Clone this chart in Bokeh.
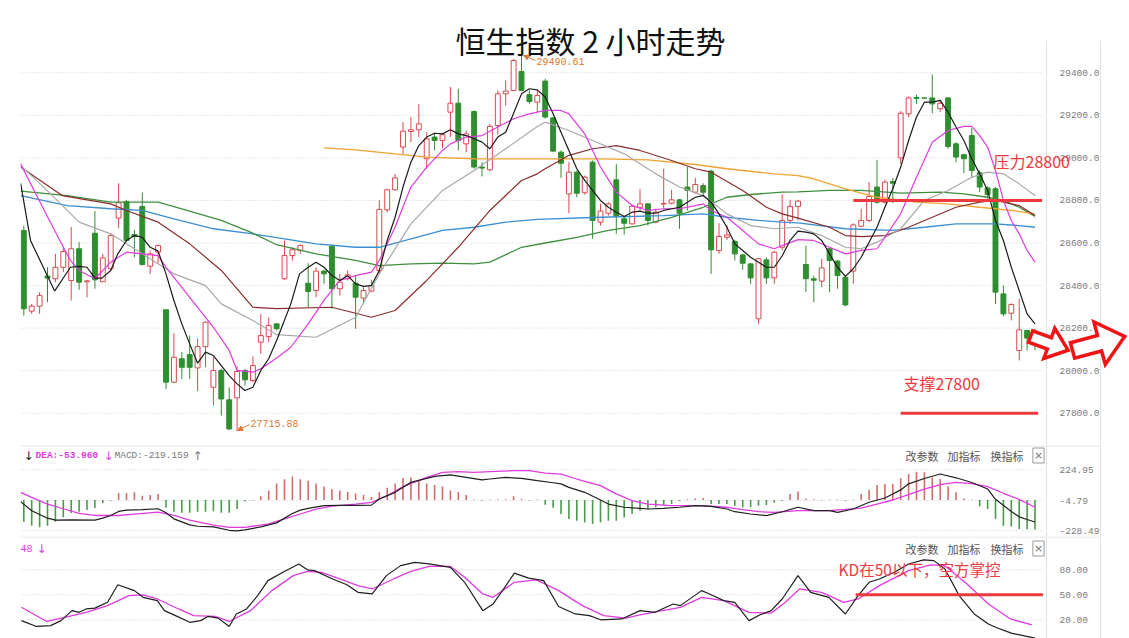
import numpy as np
from bokeh.plotting import figure
from bokeh.layouts import column
from bokeh.models import (Range1d, FixedTicker, NumeralTickFormatter, Label, LinearAxis,
                          PolyAnnotation, ColumnDataSource, Arrow, NormalHead)
from bokeh.embed import file_html
from bokeh.resources import INLINE

# ---------------- data ----------------
candle_open = [
    28659, 28280, 28303, 28445, 28432, 28486, 28424, 28573, 28418, 28646,
    28418, 28479, 28717, 28795, 28640, 28772, 28491, 28557, 28286, 27946,
    28056, 28076, 28013, 28113, 27922, 28001, 27863, 27872, 28001, 27954,
    28134, 28160, 28220, 28432, 28541, 28565, 28411, 28377, 28468, 28585,
    28385, 28432, 28411, 28341, 28374, 28471, 28756, 28850, 29051, 29124,
    29132, 28996, 29098, 29082, 29215, 29257, 29066, 29218, 28957, 28944,
    29152, 29301, 29317, 29406, 29297, 29262, 29361, 29188, 29027, 28831,
    28933, 28836, 28980, 28698, 28740, 28897, 28714, 28690, 28768, 28784,
    28698, 28783, 28787, 28803, 28863, 28839, 28870, 28938, 28565, 28627,
    28607, 28544, 28502, 28244, 28521, 28436, 28580, 28706, 28772, 28499,
    28432, 28421, 28573, 28515, 28439, 28468, 28679, 28706, 28863, 28792,
    28889, 29000, 29207, 29284, 29282, 29282, 29231, 29282, 29066, 29015,
    29105, 28930, 28859, 28855, 28361, 28270, 28095, 28189, 28186]
candle_high = [
    28682, 28314, 28369, 28486, 28549, 28580, 28675, 28604, 28427, 28750,
    28549, 28643, 28881, 28803, 28662, 28837, 28565, 28593, 28286, 28176,
    28087, 28165, 28150, 28231, 28063, 28009, 27922, 28020, 28009, 28067,
    28267, 28251, 28223, 28612, 28580, 28593, 28505, 28486, 28474, 28593,
    28455, 28471, 28447, 28392, 28427, 28800, 28855, 28925, 29168, 29192,
    29254, 29121, 29116, 29116, 29333, 29325, 29129, 29223, 28980, 29160,
    29317, 29364, 29465, 29490.61, 29317, 29317, 29372, 29192, 29035, 28980,
    28941, 28917, 28988, 28784, 28792, 28972, 28725, 28781, 28855, 28787,
    28761, 28949, 28850, 28808, 28957, 28906, 28881, 28944, 28693, 28685,
    28615, 28549, 28505, 28530, 28533, 28562, 28828, 28803, 28803, 28588,
    28447, 28526, 28577, 28521, 28447, 28693, 28761, 28886, 28991, 28897,
    28905, 29220, 29289, 29297, 29284, 29392, 29273, 29286, 29074, 29019,
    29140, 28941, 28866, 28863, 28400, 28317, 28338, 28192, 28197]
candle_low = [
    28259, 28267, 28267, 28322, 28416, 28463, 28330, 28380, 28345, 28385,
    28416, 28471, 28671, 28604, 28533, 28494, 28455, 28505, 27914, 27941,
    27961, 27961, 27904, 28016, 27836, 27789, 27722, 27715.88, 27930, 27946,
    28079, 28134, 28189, 28427, 28518, 28549, 28298, 28345, 28408, 28291,
    28353, 28424, 28197, 28314, 28369, 28455, 28745, 28847, 29019, 29074,
    29098, 28949, 29035, 29046, 29098, 29035, 29027, 28949, 28913, 28938,
    29110, 29246, 29314, 29317, 29254, 29215, 29184, 29027, 28906, 28740,
    28815, 28828, 28620, 28682, 28729, 28643, 28640, 28687, 28753, 28682,
    28693, 28761, 28781, 28667, 28753, 28831, 28823, 28455, 28549, 28615,
    28518, 28474, 28408, 28220, 28408, 28408, 28565, 28690, 28706, 28369,
    28322, 28392, 28369, 28385, 28303, 28408, 28674, 28698, 28784, 28784,
    28787, 28972, 29192, 29254, 29278, 29210, 29215, 29043, 28980, 28928,
    28906, 28839, 28808, 28314, 28255, 28236, 28048, 28095, 28095]
candle_close = [
    28291, 28303, 28353, 28435, 28486, 28560, 28573, 28416, 28422, 28427,
    28530, 28635, 28789, 28612, 28630, 28499, 28549, 28588, 27946, 28063,
    28016, 28016, 28113, 28228, 28001, 27867, 27726, 27996, 27957, 28024,
    28165, 28212, 28197, 28541, 28568, 28588, 28372, 28468, 28455, 28385,
    28416, 28450, 28345, 28377, 28400, 28758, 28850, 28906, 29126, 29132,
    29160, 29090, 29082, 29109, 29257, 29082, 29113, 28957, 28952, 29148,
    29301, 29314, 29458, 29317, 29265, 29293, 29192, 29032, 28975, 28933,
    28834, 28910, 28706, 28750, 28784, 28725, 28693, 28773, 28784, 28706,
    28745, 28786, 28803, 28740, 28847, 28875, 28839, 28568, 28631, 28638,
    28549, 28505, 28436, 28526, 28436, 28557, 28706, 28772, 28797, 28432,
    28425, 28483, 28518, 28447, 28309, 28685, 28706, 28819, 28792, 28886,
    28881, 29210, 29282, 29279, 29281, 29254, 29257, 29054, 29004, 28996,
    28941, 28863, 28828, 28369, 28267, 28311, 28192, 28153, 28173]

ma5_x = [0.6, 1.85, 4.9, 6.9, 8, 9, 10, 10.9, 12, 12.9, 14, 15, 16, 17, 18, 19, 20, 21, 22, 23,
         24, 25, 26, 27, 28, 29, 30, 31, 32, 33, 34.8, 35.9, 37, 38, 39, 40, 41, 42, 43, 44,
         45, 46, 47, 48, 49, 50, 51, 52, 53, 54, 55, 56, 57, 58, 59, 60, 61, 62, 63, 64,
         65, 66, 67, 68, 69, 70, 71, 72, 73, 74, 75, 76, 77, 78, 79, 80, 81, 82, 83, 84,
         85, 86, 87, 88, 89, 90, 91, 92, 93, 94, 95, 96, 97, 98, 99, 100, 101, 102, 103, 104,
         105, 106, 107, 108, 109, 110, 111, 112, 113, 114, 115, 116, 117, 118, 119, 120, 121, 122, 123, 124,
         125, 126, 127, 128, 129]
ma5_y = [28880, 28612, 28374, 28486, 28490, 28486, 28435, 28435, 28471, 28549, 28612, 28635, 28627, 28580, 28562, 28455, 28330, 28220, 28126, 28035,
         28087, 28071, 28024, 27977, 27938, 27907, 27922, 28001, 28056, 28142, 28314, 28455, 28486, 28510, 28486, 28447, 28424, 28447, 28408, 28396,
         28400, 28471, 28612, 28721, 28863, 28980, 29058, 29098, 29116, 29113, 29132, 29113, 29105, 29090, 29074, 29043, 29098, 29121, 29210, 29301,
         29325, 29320, 29286, 29207, 29121, 29035, 28949, 28894, 28847, 28800, 28768, 28745, 28725, 28745, 28750, 28740, 28740, 28753, 28761, 28768,
         28792, 28815, 28823, 28792, 28737, 28674, 28596, 28565, 28533, 28510, 28486, 28486, 28540, 28612, 28656, 28651, 28643, 28612, 28549, 28486,
         28443, 28479, 28533, 28604, 28674, 28768, 28855, 28957, 29082, 29192, 29262, 29262, 29270, 29215, 29145, 29082, 28996, 28925, 28847, 28706,
         28612, 28486, 28377, 28267, 28220]

ma10_x = [0.6, 2.3, 4.9, 6.9, 8, 10, 12, 14, 16, 18, 19, 21, 23, 25, 27, 28, 30, 31, 33, 34.8,
          37, 39, 41, 43, 45, 46, 48, 50, 52, 54, 55, 57, 59, 61, 63, 65, 67, 69, 70, 72,
          74, 76, 78, 80, 82, 84, 86, 87, 88, 90, 92, 94, 96, 97, 99, 101, 103, 105, 107, 109,
          110, 112, 114, 116, 118, 120, 121, 122, 123, 124, 125, 126, 127, 128, 129]
ma10_y = [28972, 28847, 28659, 28518, 28471, 28432, 28510, 28557, 28549, 28541, 28486, 28392, 28298, 28204, 28095, 28001, 27993, 28009, 28060, 28110,
          28220, 28330, 28424, 28447, 28463, 28518, 28675, 28863, 28957, 29035, 29066, 29098, 29105, 29145, 29184, 29207, 29223, 29223, 29207, 29113,
          28957, 28839, 28776, 28753, 28761, 28761, 28776, 28784, 28753, 28721, 28659, 28596, 28573, 28588, 28616, 28612, 28580, 28549, 28565, 28573,
          28627, 28737, 28909, 29074, 29129, 29148, 29148, 29105, 29051, 28941, 28800, 28706, 28643, 28565, 28510]

ma20_x = [0.6, 4.4, 8, 12, 16, 20, 24, 26, 30, 33, 38, 43, 46, 50, 54, 58, 62, 66, 67, 70,
          73, 77, 81, 84, 87, 90, 93, 96, 99, 102, 105, 107, 109, 112, 115, 118, 121, 123, 125, 127, 129]
ma20_y = [28964, 28831, 28698, 28643, 28549, 28455, 28400, 28314, 28236, 28169, 28157, 28251, 28455, 28690, 28847, 28941, 29043, 29148, 29168, 29129,
          29082, 29019, 28925, 28863, 28823, 28737, 28682, 28667, 28674, 28635, 28580, 28573, 28604, 28667, 28800, 28847, 28909, 28933, 28925, 28878, 28823]

ma30_x = [0.6, 5.85, 12, 14, 18, 22, 26, 30, 33, 40, 43, 45, 48, 52, 56, 60, 64, 66, 67, 70,
          73, 76, 79, 83, 86, 88, 92, 95, 97, 99, 103, 105, 107, 110, 113, 116, 119, 122, 124, 127, 129]
ma30_y = [28957, 28823, 28784, 28753, 28698, 28596, 28471, 28298, 28292, 28298, 28270, 28251, 28283, 28424, 28580, 28753, 28894, 28925, 28949, 29012,
          29043, 29058, 29035, 28988, 28949, 28933, 28847, 28768, 28737, 28717, 28674, 28635, 28630, 28635, 28674, 28721, 28768, 28792, 28800, 28776, 28729]

ma60_x = [0.6, 6.5, 12, 18, 21, 26, 30, 33, 38, 43, 46, 50, 54, 58, 60, 64, 67, 71, 75, 79,
          83, 87, 90, 93, 97, 99, 103, 107, 112, 117, 120, 123, 125, 127, 129]
ma60_y = [28844, 28823, 28792, 28792, 28761, 28706, 28646, 28592, 28549, 28518, 28494, 28502, 28505, 28502, 28510, 28580, 28600, 28627, 28659, 28682,
          28721, 28768, 28815, 28828, 28839, 28840, 28847, 28847, 28834, 28839, 28831, 28815, 28800, 28768, 28725]

ma120_x = [0.6, 6.5, 12, 16, 20, 25, 30, 33, 38, 43, 46, 50, 54, 58, 62, 66, 74, 82, 87, 90,
           94, 97, 99, 105, 111, 115, 119, 124, 127, 129]
ma120_y = [28823, 28776, 28761, 28753, 28714, 28667, 28643, 28625, 28596, 28580, 28580, 28620, 28659, 28674, 28698, 28711, 28721, 28729, 28737, 28721,
           28706, 28698, 28695, 28667, 28659, 28674, 28690, 28690, 28682, 28674]

ma250_x = [39, 43, 48, 52, 58, 66, 74, 80, 86, 90, 96, 99, 101, 105, 109, 114, 118, 122, 126, 129]
ma250_y = [29047, 29038, 29019, 29004, 28996, 28995, 28995, 28991, 28969, 28949, 28925, 28917, 28902, 28855, 28815, 28792, 28784, 28768, 28753, 28737]

macd_hist = [
    -161, -191, -203, -191, -161, -129, -97, -87, -74, -59,
    -22, -6, 52, 52, 57, 32, 37, 45, -57, -88,
    -94, -94, -88, -88, -84, -94, -94, -67, -10, -4,
    27, 70, 122, 154, 175, 154, 143, 122, 101, 80,
    70, 59, 48, 38, 23, 59, 91, 122, 164, 168,
    143, 122, 111, 101, 70, 59, 38, 4, -4, 3,
    3, 6, 27, 8, -4, 3, -36, -57, -104, -141,
    -154, -166, -178, -166, -154, -154, -129, -104, -79, -67,
    -54, -37, -30, -8, 5, 12, 15, -30, -30, -30,
    -42, -54, -54, -42, -37, -20, -8, 45, 64, 10,
    5, -3, 3, 3, -5, 3, 45, 77, 111, 119,
    119, 161, 193, 210, 206, 168, 156, 102, 57, 12,
    3, -47, -67, -140, -192, -197, -215, -218, -219.159]

dif_x = [0.6, 2, 4, 5, 7, 10, 11, 12, 13, 14, 16, 18, 19, 20, 22, 23, 25, 27, 28, 29,
         31, 33, 35, 36, 37, 39, 41, 43, 45, 46, 48, 50, 52, 53, 55, 57, 59, 60, 62, 64,
         66, 68, 69, 70, 72, 74, 75, 77, 79, 80, 82, 84, 86, 88, 90, 91, 93, 95, 97, 99,
         101, 103, 104, 106, 108, 110, 112, 113, 115, 117, 119, 121, 123, 124, 126, 127, 128, 129]
dif_y = [-12, -80, -135, -150, -148, -150, -135, -115, -85, -75, -72, -65, -95, -140, -185, -195, -200, -225, -230, -222,
         -200, -170, -100, -75, -62, -42, -40, -40, -38, 7, 57, 131, 161, 176, 186, 168, 149, 156, 168, 161,
         144, 128, 120, 94, 57, 0, -30, -54, -62, -67, -62, -54, -42, -47, -67, -87, -104, -116, -87, -54,
         -79, -79, -92, -67, -17, 15, 75, 120, 160, 193, 165, 130, 82, 5, -85, -125, -145, -163.5]

dea_x = [0.6, 2, 4, 6, 8, 10, 13, 15, 18, 20, 22, 25, 27, 29, 32, 34, 36, 38, 40, 43,
         45, 47, 49, 52, 54, 56, 58, 60, 63, 65, 67, 69, 71, 74, 76, 78, 80, 83, 85, 87,
         90, 92, 94, 96, 99, 101, 103, 105, 107, 109, 111, 113, 115, 117, 119, 121, 123, 125, 127, 129]
dea_y = [57, 20, -30, -65, -100, -115, -115, -105, -90, -115, -150, -186, -203, -203, -178, -141, -104, -67, -45, -30,
         -17, 32, 100, 168, 206, 211, 206, 211, 218, 218, 200, 193, 156, 107, 45, -5, -30, -42, -42, -42,
         -54, -72, -87, -92, -79, -79, -79, -70, -60, -30, 0, 40, 80, 115, 131, 122, 100, 50, 5, -53.96]

k_x = [0.7, 2.6, 4.4, 5.7, 7.1, 8, 8.9, 10, 11.6, 12.9, 15, 16.1, 17.9, 18.8, 20.2, 22, 23.4, 24.3, 25.6, 27,
       27.9, 29.2, 30.6, 31.9, 33.8, 35.8, 36.9, 37.8, 40.1, 41.9, 43.3, 45.1, 46.9, 48.7, 50.5, 52.3, 55, 56.8, 59.1, 60.4,
       61.3, 63.1, 64.9, 66.8, 68.7, 70.8, 72.6, 74, 76.7, 79, 80.9, 83.2, 84.1, 86.8, 87.8, 89.6, 91, 92.8, 94.2, 95.6,
       97, 99, 100.6, 102.9, 105, 106.6, 108, 109.3, 111.2, 113, 114.9, 116.2, 117.6, 119.4, 121.3, 123.1, 124, 126, 129]
k_y = [19, 12, 13, 19, 31, 29, 33, 34, 41, 62, 55, 47, 43, 31, 25, 17, 19, 24, 22, 12,
       27, 33, 49, 67, 77, 87, 80, 79, 69, 62, 53, 51, 73, 85, 89, 87, 83, 65, 31, 39,
       51, 76, 70, 67, 36, 27, 25, 20, 21, 31, 29, 39, 37, 55, 51, 43, 41, 19, 26, 31,
       45, 73, 53, 47, 27, 49, 65, 69, 77, 87, 92, 91, 81, 49, 27, 15, 11, 4, -2]

d_x = [0.7, 3.9, 6.2, 8.9, 11.6, 14.3, 16.1, 17.9, 20.6, 22.5, 25.2, 27, 29.7, 32.4, 35.1, 36.9, 38.7, 41, 43.3, 45.1,
       47.8, 50, 52.3, 55, 56.8, 59.1, 60.4, 63.1, 65.9, 68.7, 71.7, 74.4, 77.2, 79, 81.3, 84.1, 86.8, 89.6, 92.8, 95.6,
       97.4, 99.2, 102, 104.8, 106.6, 109.3, 113, 115.8, 117.6, 120.4, 123.1, 125.9, 128.6]
d_y = [35, 18, 23, 29, 37, 49, 50, 45, 33, 25, 24, 18, 31, 55, 73, 78, 77, 69, 61, 57,
       69, 78, 84, 84, 71, 51, 47, 65, 68, 55, 37, 25, 22, 26, 30, 35, 47, 43, 29, 28,
       41, 57, 53, 41, 45, 61, 79, 86, 85, 63, 39, 21, 14]

price_ticks = [27800, 28000, 28200, 28400, 28600, 28800, 29000, 29200, 29400]
macd_ticks = [224.95, -4.79, -228.49]
kd_ticks = [80, 50, 20]

PRESSURE = 28800
SUPPORT = 27800
PRESSURE_FROM, PRESSURE_TO = 106.0, 129.9
SUPPORT_FROM, SUPPORT_TO = 112.0, 129.4
KD_LINE = 50
KD_FROM, KD_TO = 106.3, 130.0

# ---------------- layout helpers (pixel -> data, for decorations only) ----------------
W = 1129
def px_x(px): return 0.582 + (px - 20) / 7.9
def main_y(py): return 29551.8 - (py - 40) * 4.70
def macd_y(py): return (499.5 - py) * 7.43
def kd_y(py): return 80 - (py - 569.3) * 1.2

X_RANGE = Range1d(px_x(20), px_x(W))
AXIS_AT = px_x(1046)
BOX_RIGHT = px_x(1100)
GRID_END = px_x(1043)

RED = "#d9484e"
GREEN = "#2f8e2f"
MAG = "#e03ae0"
ANN = "#ec3a3f"
BORDER = "#e0e0e0"
CJK = "Noto Sans CJK SC"
MONO = "Liberation Mono"


def base_fig(h, y0, y1, ticks, fmt, frame_top_y):
    p = figure(width=W, height=h, x_range=X_RANGE, y_range=Range1d(y0, y1),
               x_axis_location=None, y_axis_location=None, toolbar_location=None,
               output_backend="svg", min_border_left=20, min_border_right=0,
               min_border_top=0, min_border_bottom=0, title=None)
    p.outline_line_color = None
    p.grid.visible = False
    p.background_fill_color = "white"
    p.border_fill_color = "white"
    ax = LinearAxis(fixed_location=AXIS_AT, ticker=FixedTicker(ticks=ticks, minor_ticks=[]),
                    formatter=NumeralTickFormatter(format=fmt))
    ax.axis_line_color = None
    ax.major_tick_line_color = None
    ax.minor_tick_line_color = None
    ax.major_label_text_font = MONO
    ax.major_label_text_font_size = "9.5px"
    ax.major_label_text_color = "#7a7a7a"
    ax.major_label_standoff = 7
    p.add_layout(ax, "right")
    # dotted grid lines at the tick values
    p.segment(x0=[px_x(20)] * len(ticks), x1=[GRID_END] * len(ticks), y0=ticks, y1=ticks,
              line_color="#cfcfcf", line_dash="1 2", line_width=1)
    # right-hand axis box
    p.segment(x0=[AXIS_AT, BOX_RIGHT], x1=[AXIS_AT, BOX_RIGHT], y0=[frame_top_y] * 2, y1=[y0] * 2,
              line_color=BORDER, line_width=1)
    return p


def lab(p, x, y, text, color, size, font=CJK, align="left", weight="normal"):
    p.add_layout(Label(x=x, y=y, text=text, text_color=color, text_font_size=size,
                       text_font=font, text_align=align, text_baseline="middle",
                       text_font_style=weight))


# ---------------- main price panel ----------------
p = base_fig(445, main_y(445), main_y(0), price_ticks, "0.0", main_y(40))

o = np.array(candle_open, dtype=float)
c = np.array(candle_close, dtype=float)
up = c >= o
idx = np.arange(1, len(o) + 1)
src = ColumnDataSource(dict(
    x=idx, high=candle_high, low=candle_low,
    top=np.maximum(o, c), bottom=np.minimum(o, c),
    line=np.where(up, RED, GREEN), fill=np.where(up, "white", GREEN)))
p.segment(x0="x", y0="low", x1="x", y1="high", line_color="line", line_width=1, source=src)
p.vbar(x="x", width=0.62, top="top", bottom="bottom", fill_color="fill",
       line_color="line", line_width=1, source=src)

p.line(ma120_x, ma120_y, color="#3a8fd3", line_width=1.3)
p.line(ma60_x, ma60_y, color="#3e8f3e", line_width=1.3)
p.line(ma250_x, ma250_y, color="#f0a232", line_width=1.3)
p.line(ma30_x, ma30_y, color="#8a2d2d", line_width=1.2)
p.line(ma20_x, ma20_y, color="#a8a8a8", line_width=1.2)
p.line(ma10_x, ma10_y, color=MAG, line_width=1.2)
p.line(ma5_x, ma5_y, color="#1a1a1a", line_width=1.2)

p.segment(x0=[PRESSURE_FROM], y0=[PRESSURE], x1=[PRESSURE_TO], y1=[PRESSURE],
          line_color=ANN, line_width=3)
p.segment(x0=[SUPPORT_FROM], y0=[SUPPORT], x1=[SUPPORT_TO], y1=[SUPPORT],
          line_color=ANN, line_width=3)

lab(p, px_x(590), main_y(39), "恒生指数 2 小时走势", "#111111", "30px", align="center")
lab(p, px_x(993), main_y(160), "压力28800", ANN, "16px")
lab(p, px_x(903), main_y(382), "支撑27800", ANN, "16px")

ORANGE = "#e07a2e"
lab(p, px_x(536), main_y(61), "29490.61", ORANGE, "10px", font=MONO)
lab(p, px_x(250), main_y(423), "27715.88", ORANGE, "10px", font=MONO)
p.add_layout(Arrow(end=NormalHead(size=5, fill_color=ORANGE, line_color=ORANGE),
                   x_start=px_x(535), y_start=main_y(60), x_end=px_x(523), y_end=main_y(55),
                   line_color=ORANGE, line_width=1))
p.add_layout(Arrow(end=NormalHead(size=5, fill_color=ORANGE, line_color=ORANGE),
                   x_start=px_x(249), y_start=main_y(424), x_end=px_x(237), y_end=main_y(430),
                   line_color=ORANGE, line_width=1))

arrow1_px = [(1032.1, 330.4), (1050.9, 337.2), (1054.3, 327.8), (1067.6, 349.7),
             (1043.3, 357.9), (1046.8, 348.5), (1028.0, 341.6)]
arrow2_px = [(1069.9, 342.3), (1097.0, 335.0), (1093.4, 321.5), (1124.2, 336.0),
             (1104.8, 364.0), (1101.1, 350.5), (1074.1, 357.7)]
for pts in (arrow1_px, arrow2_px):
    p.add_layout(PolyAnnotation(xs=[px_x(a) for a, b in pts], ys=[main_y(b) for a, b in pts],
                                fill_color="white", fill_alpha=1.0,
                                line_color="#f01414", line_alpha=1.0, line_width=3.5,
                                line_join="miter"))

# ---------------- MACD panel ----------------
m = base_fig(91, macd_y(536), macd_y(445), macd_ticks, "0.00", macd_y(445))
m.segment(x0=[px_x(20)], x1=[BOX_RIGHT], y0=[macd_y(445.5)], y1=[macd_y(445.5)],
          line_color=BORDER, line_width=1)
hist = np.array(macd_hist, dtype=float)
hsrc = ColumnDataSource(dict(x=idx, y0=np.zeros_like(hist), y1=hist,
                             color=np.where(hist >= 0, "#d46b6b", "#4a9a4a")))
m.segment(x0="x", y0="y0", x1="x", y1="y1", line_color="color", line_width=1.6, source=hsrc)
m.line(dea_x, dea_y, color=MAG, line_width=1.3)
m.line(dif_x, dif_y, color="#1f1f1f", line_width=1.2)

hy = macd_y(455)
lab(m, px_x(23), hy, "↓", "#222222", "12px", font="DejaVu Sans")
lab(m, px_x(35), hy, "DEA:-53.960", MAG, "9.5px", font=MONO, weight="bold")
lab(m, px_x(103), hy, "↓", MAG, "12px", font="DejaVu Sans")
lab(m, px_x(114), hy, "MACD:-219.159", "#777777", "9.5px", font=MONO)
lab(m, px_x(192), hy, "↑", "#777777", "12px", font="DejaVu Sans")


def tools_row(fig, y):
    lab(fig, px_x(905), y, "改参数", "#555555", "11px")
    lab(fig, px_x(947), y, "加指标", "#555555", "11px")
    lab(fig, px_x(990), y, "换指标", "#555555", "11px")
    fig.add_layout(Label(x=px_x(1038), y=y, text="×", text_color="#777777", text_font_size="11px",
                         text_font="DejaVu Sans", text_align="center", text_baseline="middle",
                         border_line_color="#999999", border_line_width=1,
                         background_fill_color="white", padding=1))


tools_row(m, hy)

# ---------------- KD panel ----------------
k = base_fig(102, kd_y(638), kd_y(536), kd_ticks, "0.00", kd_y(536))
k.segment(x0=[px_x(20)], x1=[BOX_RIGHT], y0=[kd_y(536.5)], y1=[kd_y(536.5)],
          line_color=BORDER, line_width=1)
k.line(d_x, d_y, color=MAG, line_width=1.3)
k.line(k_x, k_y, color="#1f1f1f", line_width=1.2)
k.segment(x0=[KD_FROM], y0=[KD_LINE], x1=[KD_TO], y1=[KD_LINE], line_color=ANN, line_width=3)
lab(k, px_x(838), kd_y(568), "KD在50以下，空方掌控", ANN, "15.5px")
ky = kd_y(548)
lab(k, px_x(20), ky, "48", MAG, "10px", font=MONO)
lab(k, px_x(36), ky, "↓", MAG, "12px", font="DejaVu Sans")
tools_row(k, ky)

layout = column(p, m, k, spacing=0)
open("out.html", "w").write(file_html(layout, INLINE))
